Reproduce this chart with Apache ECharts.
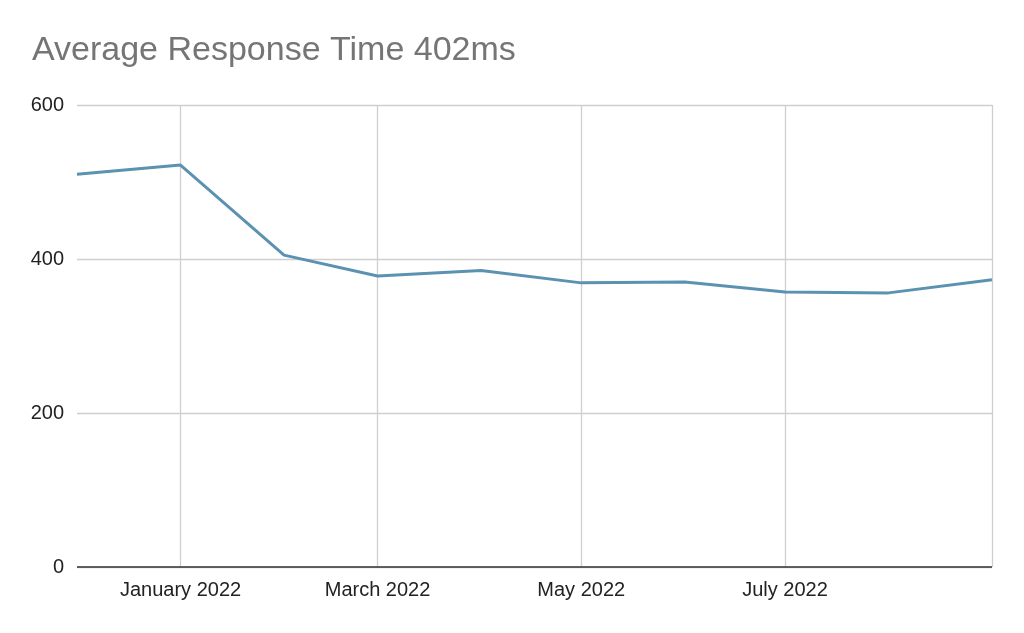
<!DOCTYPE html>
<html>
<head>
<meta charset="utf-8">
<script src="https://cdn.jsdelivr.net/npm/echarts@6/dist/echarts.min.js"></script>
<style>
  html, body { margin: 0; padding: 0; background: #fff; }
  #chart { width: 1024px; height: 633px; }
</style>
</head>
<body>
<div id="chart"></div>
<script>
// monthly averages, first of each month
var months = ['2021-12-01', '2022-01-01', '2022-02-01', '2022-03-01', '2022-04-01',
              '2022-05-01', '2022-06-01', '2022-07-01', '2022-08-01', '2022-09-01'];
var responseTimes = [510, 522, 405, 378, 385, 369, 370, 357, 356, 373];
var yTicks = [0, 200, 400, 600];
var labelMonths = ['2022-01-01', '2022-03-01', '2022-05-01', '2022-07-01'];
var gridMonths = ['2022-01-01', '2022-03-01', '2022-05-01', '2022-07-01', '2022-09-01'];
var monthNames = ['January', 'February', 'March', 'April', 'May', 'June', 'July',
                  'August', 'September', 'October', 'November', 'December'];

function ts(s) {
	var p = s.split('-');
	return Date.UTC(+p[0], +p[1] - 1, +p[2]);
}

var seriesData = [];
for (var i = 0; i < months.length; i++) {
	seriesData.push([ts(months[i]), responseTimes[i]]);
}

var chart = echarts.init(document.getElementById('chart'));

var option = {
	animation: false,
	title: {
		text: 'Average Response Time 402ms',
		left: 27,
		top: 29,
		textStyle: {
			fontFamily: 'Liberation Sans',
			fontSize: 34,
			fontWeight: 'normal',
			color: '#757575'
		}
	},
	grid: { left: 77, right: 32, top: 105, bottom: 66 },
	xAxis: {
		type: 'value',
		min: ts(months[0]),
		max: ts(months[months.length - 1]),
		axisLine: { show: false },
		axisTick: { show: false, customValues: gridMonths.map(ts) },
		splitLine: { show: true, lineStyle: { color: '#cfcfcf', width: 1.3 } },
		axisLabel: {
			customValues: labelMonths.map(ts),
			margin: 13,
			fontFamily: 'Liberation Sans',
			fontSize: 20,
			color: '#222',
			formatter: function(v) {
				var d = new Date(v);
				return monthNames[d.getUTCMonth()] + ' ' + d.getUTCFullYear();
			}
		}
	},
	yAxis: {
		type: 'value',
		min: yTicks[0],
		max: yTicks[yTicks.length - 1],
		interval: 200,
		axisLine: { show: false },
		axisTick: { show: false },
		splitLine: { lineStyle: { color: '#cfcfcf', width: 1.3 } },
		axisLabel: {
			margin: 13,
			fontFamily: 'Liberation Sans',
			fontSize: 20,
			color: '#222'
		}
	},
	series: [
		{
			type: 'line',
			data: seriesData,
			showSymbol: false,
			lineStyle: { color: '#5b92b1', width: 3 },
			itemStyle: { color: '#5b92b1' },
			markLine: {
				silent: true,
				symbol: 'none',
				label: { show: false },
				lineStyle: { color: '#333', width: 1.5, type: 'solid' },
				data: [{ yAxis: 0 }]
			}
		}
	]
};

chart.setOption(option);
</script>
</body>
</html>
